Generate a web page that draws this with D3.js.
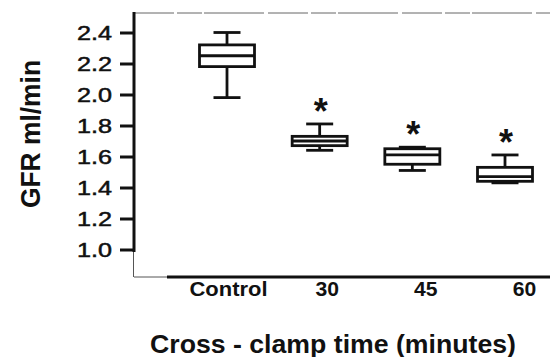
<!DOCTYPE html>
<html>
<head>
<meta charset="utf-8">
<script src="https://cdn.jsdelivr.net/npm/d3@7"></script>
<style>
  html, body { margin: 0; padding: 0; background: #fff; }
  svg { display: block; font-family: "Liberation Sans", Arial, Helvetica, sans-serif; }
</style>
</head>
<body>
<svg id="chart" width="550" height="357"></svg>
<script>
// GFR by cross-clamp time: five-number summaries for each group
const categories = ["Control", "30", "45", "60"];
const maxVals    = [2.40, 1.81, 1.66, 1.61];
const q3Vals     = [2.32, 1.73, 1.65, 1.53];
const medianVals = [2.25, 1.70, 1.61, 1.47];
const q1Vals     = [2.18, 1.67, 1.55, 1.44];
const minVals    = [1.98, 1.64, 1.51, 1.43];
const significant = [false, true, true, true];
const yTicks = [1.0, 1.2, 1.4, 1.6, 1.8, 2.0, 2.2, 2.4];

const groups = categories.map((c, i) => ({
  cat: c, max: maxVals[i], q3: q3Vals[i], med: medianVals[i],
  q1: q1Vals[i], min: minVals[i], sig: significant[i]
}));

const svg = d3.select("#chart");
const ink = "#111";

const y = d3.scaleLinear().domain([1.0, 2.4]).range([249.5, 32.5]);
// box positions and the category labels below the axis
const xBox = d3.scalePoint().domain(categories).range([227, 505]);
const xLab = d3.scalePoint().domain(categories).range([228, 524]);

const plotLeft = 134, plotRight = 550, plotTop = 13, plotBottom = 277;

// frame: faint top rule, thick left axis, thick bottom axis
svg.append("line").attr("x1", plotLeft).attr("x2", plotRight).attr("y1", plotTop).attr("y2", plotTop)
  .attr("stroke", "#666").attr("stroke-width", 1).attr("stroke-dasharray", "40,3,25,2,60,4");
svg.append("line").attr("x1", plotLeft).attr("x2", plotLeft).attr("y1", plotTop - 1).attr("y2", 252)
  .attr("stroke", ink).attr("stroke-width", 3);
svg.append("line").attr("x1", plotLeft - 0.5).attr("x2", plotLeft - 0.5).attr("y1", 252).attr("y2", plotBottom)
  .attr("stroke", "#555").attr("stroke-width", 1);
svg.append("line").attr("x1", plotLeft).attr("x2", 168).attr("y1", plotBottom).attr("y2", plotBottom)
  .attr("stroke", "#555").attr("stroke-width", 1);
svg.append("line").attr("x1", 167).attr("x2", plotRight).attr("y1", plotBottom).attr("y2", plotBottom)
  .attr("stroke", ink).attr("stroke-width", 3);

// y axis ticks and labels
const yAxis = svg.append("g").attr("transform", `translate(${plotLeft},0)`)
  .call(d3.axisLeft(y).tickValues(yTicks).tickFormat(d3.format(".1f")).tickSize(14).tickPadding(8));
yAxis.select(".domain").remove();
yAxis.selectAll(".tick line").attr("stroke", ink).attr("stroke-width", 3);
yAxis.selectAll(".tick text")
  .attr("fill", ink).attr("stroke", ink).attr("stroke-width", 0.5)
  .attr("font-size", 19.5).attr("dy", "0.36em")
  .attr("textLength", 35).attr("lengthAdjust", "spacingAndGlyphs")
  .attr("x", -22);

// x axis labels
const xAxis = svg.append("g").attr("transform", `translate(0,${plotBottom})`)
  .call(d3.axisBottom(xLab).tickSize(0).tickPadding(0));
xAxis.select(".domain").remove();
xAxis.selectAll(".tick text")
  .attr("fill", ink).attr("font-size", 20).attr("font-weight", "bold")
  .attr("y", 19).attr("dy", 0)
  .attr("textLength", d => d === "Control" ? 78 : 23.5).attr("lengthAdjust", "spacingAndGlyphs");

// axis titles
svg.append("text")
  .attr("x", 333).attr("y", 353).attr("text-anchor", "middle")
  .attr("font-size", 25).attr("font-weight", "bold").attr("fill", ink)
  .attr("textLength", 366).attr("lengthAdjust", "spacingAndGlyphs")
  .text("Cross - clamp time (minutes)");
svg.append("text")
  .attr("transform", "translate(40,134) rotate(-90)")
  .attr("text-anchor", "middle")
  .attr("font-size", 28).attr("font-weight", "bold").attr("fill", ink)
  .attr("textLength", 148).attr("lengthAdjust", "spacingAndGlyphs")
  .text("GFR ml/min");

// box plots
const boxW = 55, capW = 27, sw = 2.8;
const g = svg.append("g").selectAll("g").data(groups).join("g")
  .attr("transform", d => `translate(${xBox(d.cat)},0)`);

g.append("line").attr("y1", d => y(d.max)).attr("y2", d => y(d.q3))
  .attr("stroke", ink).attr("stroke-width", sw);
g.append("line").attr("y1", d => y(d.q1)).attr("y2", d => y(d.min))
  .attr("stroke", ink).attr("stroke-width", sw);
g.append("line").attr("x1", -capW / 2).attr("x2", capW / 2)
  .attr("y1", d => y(d.max)).attr("y2", d => y(d.max))
  .attr("stroke", ink).attr("stroke-width", sw);
g.append("line").attr("x1", -capW / 2).attr("x2", capW / 2)
  .attr("y1", d => y(d.min)).attr("y2", d => y(d.min))
  .attr("stroke", ink).attr("stroke-width", sw);
g.append("rect").attr("x", -boxW / 2).attr("width", boxW)
  .attr("y", d => y(d.q3)).attr("height", d => y(d.q1) - y(d.q3))
  .attr("fill", "#fff").attr("stroke", ink).attr("stroke-width", sw);
g.append("line").attr("x1", -boxW / 2).attr("x2", boxW / 2)
  .attr("y1", d => y(d.med)).attr("y2", d => y(d.med))
  .attr("stroke", ink).attr("stroke-width", sw);

// significance markers
g.filter(d => d.sig).append("text")
  .attr("x", 1).attr("y", d => y(d.max) - 20 + 20)
  .attr("text-anchor", "middle")
  .attr("font-size", 36).attr("font-weight", "bold").attr("fill", ink)
  .text("*");
</script>
</body>
</html>
